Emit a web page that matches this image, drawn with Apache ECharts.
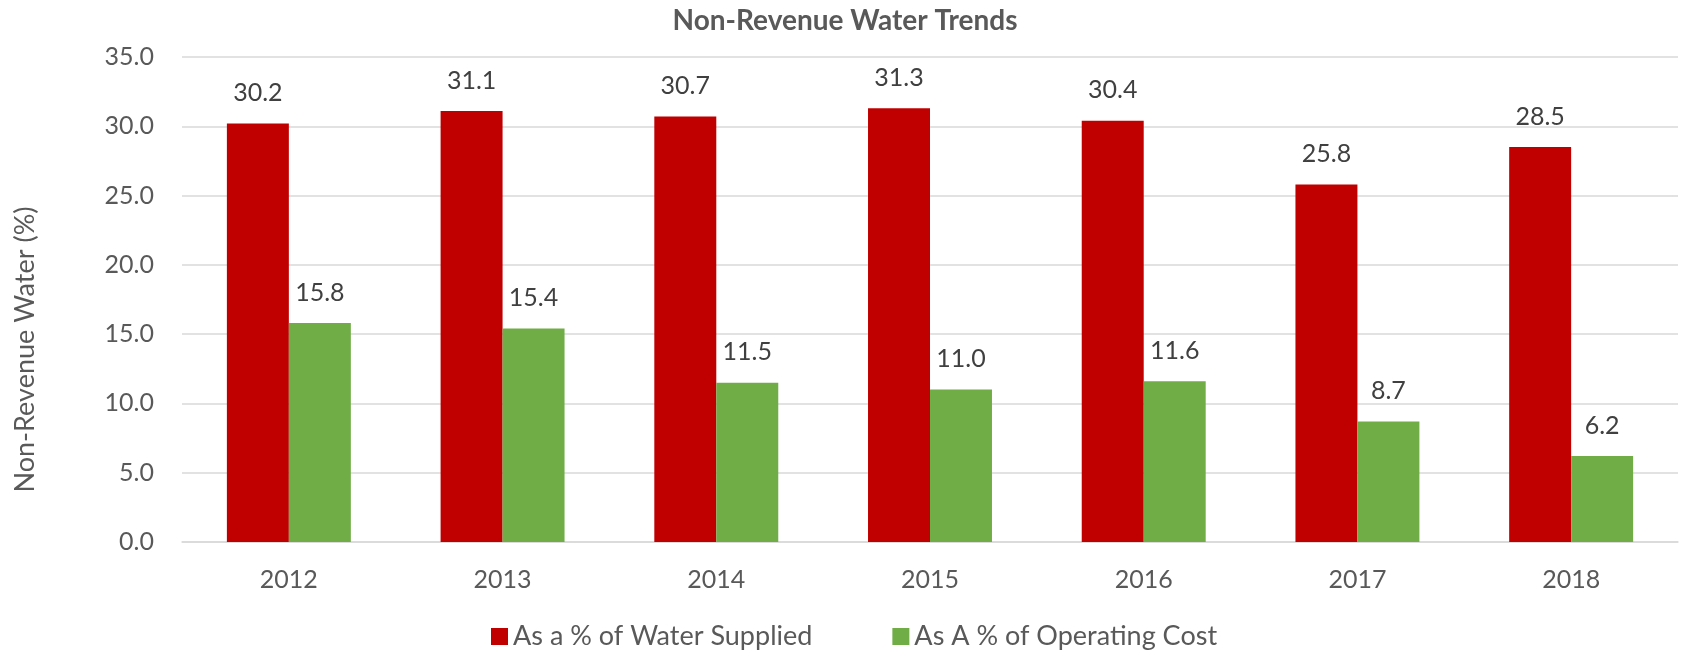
<!DOCTYPE html>
<html>
<head>
<meta charset="utf-8">
<script src="https://cdn.jsdelivr.net/npm/echarts@6/dist/echarts.min.js"></script>
<style>
  html, body { margin: 0; padding: 0; background: #fff; }
  #main { width: 1681px; height: 650px; }
</style>
</head>
<body>
<div id="main"></div>
<script>
var years = ['2012', '2013', '2014', '2015', '2016', '2017', '2018'];
var waterSupplied = [30.2, 31.1, 30.7, 31.3, 30.4, 25.8, 28.5];
var operatingCost = [15.8, 15.4, 11.5, 11.0, 11.6, 8.7, 6.2];
var seriesNames = ['As a % of Water Supplied', 'As A % of Operating Cost'];

(function () {
    var myChart = echarts.init(document.getElementById('main'));
    var font = 'Lato';

    // label shared by both bar series
    var barLabel = {
        show: true,
        position: 'top',
        distance: 18,
        fontFamily: font,
        fontSize: 25,
        color: '#404040',
        formatter: function (p) { return p.value.toFixed(1); }
    };

    var option = {
        animation: false,
        textStyle: { fontFamily: font },
        title: {
            text: 'Non-Revenue Water Trends',
            left: 840,
            top: 2,
            textAlign: 'center',
            textStyle: { fontFamily: font, fontSize: 28, fontWeight: 'bold', color: '#595959' }
        },
        legend: {
            left: 486,
            top: 618,
            itemWidth: 17,
            itemHeight: 17,
            itemGap: 80,
            icon: 'rect',
            textStyle: { fontFamily: font, fontSize: 27, color: '#595959' },
            data: seriesNames
        },
        grid: { left: 182, right: 3, top: 57, bottom: 108 },
        xAxis: {
            type: 'category',
            data: years,
            axisLine: { lineStyle: { color: '#d9d9d9', width: 1.5 } },
            axisTick: { show: false },
            axisLabel: { margin: 25, fontFamily: font, fontSize: 25, color: '#595959' }
        },
        yAxis: {
            type: 'value',
            min: 0,
            max: 35,
            interval: 5,
            name: 'Non-Revenue Water (%)',
            nameLocation: 'middle',
            nameGap: 143,
            // pushed down a bit, like the original
            nameTextStyle: { fontFamily: font, fontSize: 27, color: '#595959', padding: [0, 100, 0, 0] },
            axisLine: { show: false },
            axisTick: { show: false },
            splitLine: { lineStyle: { color: '#d9d9d9', width: 1.5 } },
            axisLabel: {
                margin: 28,
                fontFamily: font,
                fontSize: 25,
                color: '#595959',
                formatter: function (v) { return v.toFixed(1); }
            }
        },
        series: [
            {
                name: seriesNames[0],
                type: 'bar',
                data: waterSupplied,
                barGap: '0%',
                barCategoryGap: '42%',
                itemStyle: { color: '#c00000' },
                label: barLabel
            },
            {
                name: seriesNames[1],
                type: 'bar',
                data: operatingCost,
                barGap: '0%',
                barCategoryGap: '42%',
                itemStyle: { color: '#70ad47' },
                label: barLabel
            }
        ]
    };
    myChart.setOption(option);
})();
</script>
</body>
</html>
